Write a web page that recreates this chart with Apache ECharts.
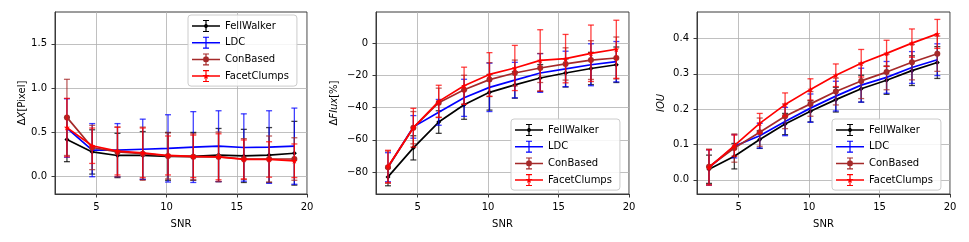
<!DOCTYPE html>
<html>
<head>
<meta charset="utf-8">
<script src="https://cdn.jsdelivr.net/npm/echarts@6/dist/echarts.min.js"></script>
<style>
html,body{margin:0;padding:0;background:#fff;}
#chart{width:969px;height:242px;}
</style>
</head>
<body>
<div id="chart"></div>
<script>
// ---------- data ----------
const snr = [2.9, 4.7, 6.5, 8.3, 10.1, 11.9, 13.7, 15.5, 17.3, 19.1];
const methods = ['FellWalker', 'LDC', 'ConBased', 'FacetClumps'];

// Panel 1: ΔX [Pixel]
const dxFellWalker = [0.42, 0.28, 0.24, 0.24, 0.23, 0.23, 0.245, 0.235, 0.245, 0.265];
const dxFellWalkerErr = [0.25, 0.25, 0.25, 0.27, 0.27, 0.27, 0.30, 0.30, 0.31, 0.36];
const dxLDC = [0.55, 0.30, 0.30, 0.31, 0.32, 0.335, 0.345, 0.33, 0.335, 0.345];
const dxLDCErr = [0.33, 0.30, 0.30, 0.34, 0.38, 0.40, 0.40, 0.38, 0.41, 0.43];
const dxConBased = [0.67, 0.33, 0.28, 0.26, 0.235, 0.225, 0.225, 0.20, 0.20, 0.20];
const dxConBasedErr = [0.43, 0.25, 0.28, 0.30, 0.26, 0.26, 0.28, 0.23, 0.26, 0.24];
const dxFacetClumps = [0.555, 0.35, 0.29, 0.27, 0.24, 0.23, 0.225, 0.195, 0.195, 0.18];
const dxFacetClumpsErr = [0.33, 0.20, 0.27, 0.28, 0.22, 0.24, 0.26, 0.22, 0.20, 0.19];

// Panel 2: ΔFlux [%]
const fluxFellWalker = [-83, -65, -49, -38.3, -30.6, -26, -21.7, -18.6, -15.8, -13.5];
const fluxFellWalkerErr = [5.5, 7.5, 7, 9, 11, 8.2, 8.3, 8.7, 10, 11];
const fluxLDC = [-77, -52, -43, -34, -27.5, -23, -18.6, -16.1, -13.5, -11.6];
const fluxLDCErr = [9, 7, 8, 11.5, 15, 11, 12, 11, 13, 12.5];
const fluxConBased = [-77, -52.5, -37, -29, -22.7, -18.6, -15.5, -13, -10.6, -9.3];
const fluxConBasedErr = [10, 10, 9, 9, 10.5, 8, 9, 10, 12, 13];
const fluxFacetClumps = [-76.5, -52.5, -36.2, -26.5, -19.5, -15.5, -10.8, -9.7, -6.4, -3.9];
const fluxFacetClumpsErr = [10, 12, 10, 11.5, 13.5, 14, 19, 15, 17.5, 18];

// Panel 3: IOU
const iouFellWalker = [0.03, 0.067, 0.114, 0.158, 0.194, 0.227, 0.258, 0.282, 0.309, 0.332];
const iouFellWalkerErr = [0.04, 0.036, 0.025, 0.03, 0.03, 0.035, 0.038, 0.04, 0.042, 0.045];
const iouLDC = [0.035, 0.095, 0.125, 0.165, 0.203, 0.237, 0.268, 0.29, 0.318, 0.34];
const iouLDCErr = [0.05, 0.033, 0.035, 0.04, 0.04, 0.042, 0.048, 0.045, 0.045, 0.045];
const iouConBased = [0.037, 0.09, 0.135, 0.18, 0.215, 0.25, 0.28, 0.305, 0.333, 0.357];
const iouConBasedErr = [0.05, 0.04, 0.04, 0.035, 0.035, 0.038, 0.05, 0.05, 0.05, 0.05];
const iouFacetClumps = [0.035, 0.097, 0.16, 0.213, 0.256, 0.296, 0.33, 0.358, 0.387, 0.413];
const iouFacetClumpsErr = [0.05, 0.03, 0.028, 0.033, 0.03, 0.032, 0.039, 0.037, 0.04, 0.041];

// tick labels
const xTicks = [5, 10, 15, 20];
const yTicksDx = [0, 0.5, 1.0, 1.5];
const yTicksFlux = [-80, -60, -40, -20, 0];
const yTicksIou = [0, 0.1, 0.2, 0.3, 0.4];

// ---------- styling ----------
const FONT = 'DejaVu Sans';
const colors = {FellWalker: '#000000', LDC: '#0000ff', ConBased: '#a52a2a', FacetClumps: '#ff0000'};

const starPts = [[5,0],[6.18,3.38],[9.76,3.45],[6.90,5.62],[7.94,9.05],[5,7],[2.06,9.05],[3.10,5.62],[0.24,3.45],[3.82,3.38]];
function starPath(cx, cy, s) {
  return 'M' + starPts.map(p => (cx + (p[0]-5)*s).toFixed(2) + ',' + (cy + (p[1]-5)*s).toFixed(2)).join(' L') + ' Z';
}
const markerPaths = {
  FellWalker: 'M14,3.3 L16.7,6 L14,8.7 L11.3,6 Z',
  LDC: '',
  ConBased: 'M14,2.8 L16.3,3.7 L17.2,6 L16.3,8.3 L14,9.2 L11.7,8.3 L10.8,6 L11.7,3.7 Z',
  FacetClumps: starPath(14, 6, 0.7)
};
const symbols = {
  FellWalker: {symbol: 'diamond', size: 5},
  LDC: {symbol: 'none', size: 0},
  ConBased: {symbol: 'circle', size: 6},
  FacetClumps: {symbol: 'path://' + starPath(5, 5, 1), size: 6}
};
function legendIcon(m) {
  return 'path://M0,5.25 L28,5.25 L28,6.75 L0,6.75 Z M13.4,0 L14.6,0 L14.6,12 L13.4,12 Z ' +
         'M11,0 L17,0 L17,1.1 L11,1.1 Z M11,10.9 L17,10.9 L17,12 L11,12 Z ' + markerPaths[m];
}

const panels = [
  {left: 55, width: 252, ymin: -0.195, ymax: 1.86, yTicks: yTicksDx, fmt: v => v.toFixed(1),
   name: '{n|Δ}{i|X}{n|[Pixel]}', nameGap: 20,
   vals: [dxFellWalker, dxLDC, dxConBased, dxFacetClumps],
   errs: [dxFellWalkerErr, dxLDCErr, dxConBasedErr, dxFacetClumpsErr],
   legend: {left: 188, top: 15}},
  {left: 376, width: 253, ymin: -93.6, ymax: 19.2, yTicks: yTicksFlux, fmt: v => (v < 0 ? '\u2212' + Math.abs(v) : String(v)),
   name: '{n|Δ}{i|Flux}{n|[%]}', nameGap: 37,
   vals: [fluxFellWalker, fluxLDC, fluxConBased, fluxFacetClumps],
   errs: [fluxFellWalkerErr, fluxLDCErr, fluxConBasedErr, fluxFacetClumpsErr],
   legend: {left: 511, top: 119}},
  {left: 697, width: 253, ymin: -0.04, ymax: 0.475, yTicks: yTicksIou, fmt: v => v.toFixed(1),
   name: '{i|IOU}', nameGap: 31,
   vals: [iouFellWalker, iouLDC, iouConBased, iouFacetClumps],
   errs: [iouFellWalkerErr, iouLDCErr, iouConBasedErr, iouFacetClumpsErr],
   legend: {left: 832, top: 119}}
];

function errRender(params, api) {
  const x = api.value(0), lo = api.value(1), hi = api.value(2);
  const p1 = api.coord([x, hi]), p2 = api.coord([x, lo]);
  const c = api.visual('color');
  const w = 3;
  const st = {stroke: c, lineWidth: 1.3, opacity: 0.75};
  return {type: 'group', children: [
    {type: 'line', shape: {x1: p1[0], y1: p1[1], x2: p2[0], y2: p2[1]}, style: st},
    {type: 'line', shape: {x1: p1[0]-w, y1: p1[1], x2: p1[0]+w, y2: p1[1]}, style: st},
    {type: 'line', shape: {x1: p2[0]-w, y1: p2[1], x2: p2[0]+w, y2: p2[1]}, style: st}
  ]};
}

const grid = [], xAxis = [], yAxis = [], series = [], legend = [];
panels.forEach((p, k) => {
  grid.push({left: p.left, top: 12, width: p.width, height: 182, show: true,
             borderColor: '#3a3a3a', borderWidth: 1, backgroundColor: 'transparent'});
  xAxis.push({type: 'value', gridIndex: k, min: 2.05, max: 20,
    name: 'SNR', nameLocation: 'middle', nameGap: 25,
    nameTextStyle: {fontFamily: FONT, fontSize: 10, color: '#000'},
    axisLine: {show: true, onZero: false, lineStyle: {color: '#3a3a3a', width: 1}},
    axisTick: {show: true, inside: false, length: 3.5, customValues: xTicks, lineStyle: {color: '#3a3a3a'}},
    axisLabel: {customValues: xTicks, margin: 8, fontFamily: FONT, fontSize: 10, color: '#000',
                formatter: v => String(v)},
    splitLine: {show: true, lineStyle: {color: '#b0b0b0', width: 0.8}}
  });
  yAxis.push({type: 'value', gridIndex: k, min: p.ymin, max: p.ymax,
    name: p.name, nameLocation: 'middle', nameGap: p.nameGap,
    nameTextStyle: {fontFamily: FONT, fontSize: 10, color: '#000',
      rich: {n: {fontFamily: FONT, fontSize: 10, color: '#000'},
             i: {fontFamily: FONT, fontSize: 10, color: '#000', fontStyle: 'italic'}}},
    axisLine: {show: true, onZero: false, lineStyle: {color: '#3a3a3a', width: 1}},
    axisTick: {show: true, inside: false, length: 3.5, customValues: p.yTicks, lineStyle: {color: '#3a3a3a'}},
    axisLabel: {customValues: p.yTicks, margin: 8, fontFamily: FONT, fontSize: 10, color: '#000',
                formatter: p.fmt},
    splitLine: {show: true, lineStyle: {color: '#b0b0b0', width: 0.8}}
  });
  methods.forEach((m, j) => {
    const v = p.vals[j], e = p.errs[j];
    series.push({type: 'custom', name: m + ' err', xAxisIndex: k, yAxisIndex: k,
      renderItem: errRender, itemStyle: {color: colors[m]},
      encode: {x: 0, y: [1, 2]}, silent: true, z: 2 + j,
      data: snr.map((x, i) => [x, v[i] - e[i], v[i] + e[i]])});
    series.push({type: 'line', name: m, xAxisIndex: k, yAxisIndex: k,
      symbol: symbols[m].symbol, symbolSize: symbols[m].size, showSymbol: true,
      lineStyle: {color: colors[m], width: 1.7}, itemStyle: {color: colors[m], borderWidth: 0},
      color: colors[m], silent: true, animation: false, z: 2 + j,
      data: snr.map((x, i) => [x, v[i]])});
  });
  legend.push({orient: 'vertical', left: p.legend.left, top: p.legend.top,
    padding: [5, 8, 4, 4], itemGap: 4.7, itemWidth: 28, itemHeight: 12,
    borderColor: '#cccccc', borderWidth: 1, borderRadius: 3, backgroundColor: 'rgba(255,255,255,0.85)',
    textStyle: {fontFamily: FONT, fontSize: 10, color: '#000'},
    selectedMode: false,
    data: methods.map(m => ({name: m, icon: legendIcon(m), itemStyle: {color: colors[m]}}))});
});

const chart = echarts.init(document.getElementById('chart'), null, {renderer: 'canvas'});
chart.setOption({animation: false, backgroundColor: '#fff', grid, xAxis, yAxis, series, legend});
</script>
</body>
</html>
